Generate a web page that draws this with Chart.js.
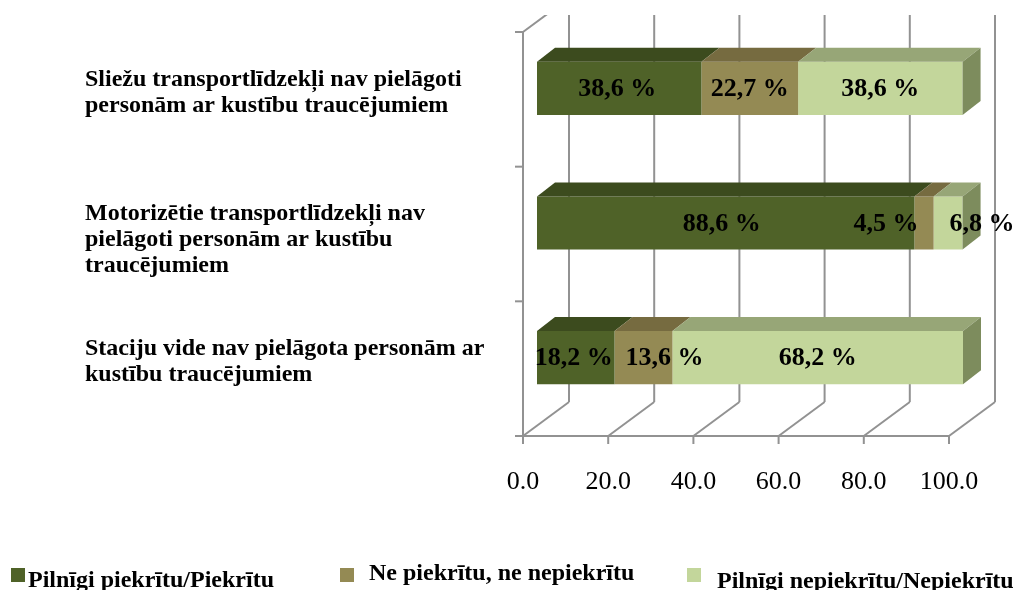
<!DOCTYPE html>
<html>
<head>
<meta charset="utf-8">
<script src="https://cdn.jsdelivr.net/npm/chart.js@4/dist/chart.umd.min.js"></script>
<style>
  html, body { margin: 0; padding: 0; background: #ffffff; }
  #wrap { position: relative; width: 1022px; height: 590px; overflow: hidden; }
  #c { position: absolute; left: 0; top: 0; }
  .leg { position: absolute; font-family: "Liberation Serif", serif; font-weight: bold; font-size: 24px; color: #000; white-space: nowrap; line-height: 1; }
  .mk { position: absolute; width: 14px; height: 14px; }
</style>
</head>
<body>
<div id="wrap">
  <canvas id="c" width="1022" height="590"></canvas>
  <div id="legend"></div>
</div>
<script>
// ---- data ----
const categories = [
  ["Sliežu transportlīdzekļi nav pielāgoti", "personām ar kustību traucējumiem"],
  ["Motorizētie transportlīdzekļi nav", "pielāgoti personām ar kustību", "traucējumiem"],
  ["Staciju vide nav pielāgota personām ar", "kustību traucējumiem"]
];
const seriesNames = ["Pilnīgi piekrītu/Piekrītu", "Ne piekrītu, ne nepiekrītu", "Pilnīgi nepiekrītu/Nepiekrītu"];
const agree    = [38.6, 88.6, 18.2];
const neutral  = [22.7, 4.5, 13.6];
const disagree = [38.6, 6.8, 68.2];
const xTicks = [0, 20, 40, 60, 80, 100];

// ---- styles ----
const frontColors = ["#4f6228", "#948a54", "#c3d69b"];
const topColors   = ["#3c4b1e", "#766b40", "#97a677"];
const sideColor   = "#7d8c5d";
const gridColor   = "#929292";
const FRONT = { dx: -14, dy: 11 };   // front wall offset from bar plane
const BACK  = { dx: 32, dy: -23 };   // back wall offset from bar plane
const DEPTH = { dx: 18, dy: 14 };    // bar depth
const CLIP_TOP = 15;
// label nudges [dataset][index] in px (to avoid overlaps as in the original)
const labelNudge = [[-2, -4, -2], [0, -38, 21], [0, 34, 0]];

const seriesData = [agree, neutral, disagree];

const threeD = {
  id: 'threeD',
  beforeDatasetsDraw(chart) {
    const ctx = chart.ctx, xs = chart.scales.x, ca = chart.chartArea;
    ctx.save();
    ctx.beginPath();
    ctx.rect(0, CLIP_TOP, chart.width, chart.height - CLIP_TOP);
    ctx.clip();
    ctx.strokeStyle = gridColor;
    ctx.lineWidth = 2;
    ctx.lineCap = 'butt';
    const line = (x1, y1, x2, y2) => { ctx.beginPath(); ctx.moveTo(x1, y1); ctx.lineTo(x2, y2); ctx.stroke(); };
    const fb = ca.bottom + FRONT.dy, bb = ca.bottom + BACK.dy;
    const ft = ca.top + FRONT.dy, bt = ca.top + BACK.dy;
    xTicks.forEach(v => {
      const px = xs.getPixelForValue(v);
      line(px + BACK.dx, bb, px + BACK.dx, bt - 20);
      line(px + FRONT.dx, fb, px + BACK.dx, bb);
      line(px + FRONT.dx, fb, px + FRONT.dx, fb + 8);
    });
    const x0 = xs.getPixelForValue(0), x1 = xs.getPixelForValue(100);
    line(x0 + FRONT.dx - 8, fb, x1 + FRONT.dx, fb);
    line(x0 + FRONT.dx, ft, x0 + FRONT.dx, fb);
    line(x0 + FRONT.dx, ft, x0 + BACK.dx, bt);
    const n = categories.length;
    const step = (ca.bottom - ca.top) / n;
    for (let i = 0; i <= n; i++) {
      const y = ca.top + i * step + FRONT.dy;
      line(x0 + FRONT.dx - 8, y, x0 + FRONT.dx, y);
    }
    ctx.restore();
  },
  afterDatasetsDraw(chart) {
    const ctx = chart.ctx;
    ctx.save();
    const nSets = chart.data.datasets.length;
    for (let d = 0; d < nSets; d++) {
      const meta = chart.getDatasetMeta(d);
      meta.data.forEach((el, i) => {
        const p = el.getProps(['x', 'y', 'base', 'height'], true);
        const l = Math.min(p.base, p.x), r = Math.max(p.base, p.x);
        const t = p.y - p.height / 2, b = p.y + p.height / 2;
        ctx.fillStyle = topColors[d];
        ctx.beginPath();
        ctx.moveTo(l, t); ctx.lineTo(r, t);
        ctx.lineTo(r + DEPTH.dx, t - DEPTH.dy); ctx.lineTo(l + DEPTH.dx, t - DEPTH.dy);
        ctx.closePath(); ctx.fill();
        if (d === nSets - 1) {
          ctx.fillStyle = sideColor;
          ctx.beginPath();
          ctx.moveTo(r, t); ctx.lineTo(r + DEPTH.dx, t - DEPTH.dy);
          ctx.lineTo(r + DEPTH.dx, b - DEPTH.dy); ctx.lineTo(r, b);
          ctx.closePath(); ctx.fill();
        }
      });
    }
    ctx.font = 'bold 26px "Liberation Serif"';
    ctx.fillStyle = '#000';
    ctx.textAlign = 'center';
    ctx.textBaseline = 'middle';
    for (let d = 0; d < nSets; d++) {
      const meta = chart.getDatasetMeta(d);
      meta.data.forEach((el, i) => {
        const p = el.getProps(['x', 'y', 'base'], true);
        const v = chart.data.datasets[d].data[i];
        const txt = v.toFixed(1).replace('.', ',') + ' %';
        ctx.fillText(txt, (p.x + p.base) / 2 + labelNudge[d][i], p.y + 1);
      });
    }
    ctx.restore();
  }
};

const chart = new Chart(document.getElementById('c'), {
  type: 'bar',
  data: {
    labels: categories,
    datasets: seriesNames.map((name, k) => ({
      label: name,
      data: seriesData[k],
      backgroundColor: frontColors[k],
      borderWidth: 0,
      barPercentage: 0.395,
      categoryPercentage: 1.0
    }))
  },
  options: {
    indexAxis: 'y',
    responsive: false,
    animation: false,
    events: [],
    layout: { padding: { top: 21, right: 59, left: 85, bottom: 0 } },
    plugins: { legend: { display: false }, tooltip: { enabled: false } },
    scales: {
      x: {
        stacked: true, min: 0, max: 100,
        afterBuildTicks: s => { s.ticks = xTicks.map(v => ({ value: v })); },
        afterFit: s => { s.height = 165; s.paddingLeft = 0; s.paddingRight = 0; },
        grid: { display: false, drawTicks: false },
        border: { display: false },
        ticks: {
          callback: v => Number(v).toFixed(1),
          font: { family: 'Liberation Serif', size: 26 },
          color: '#000',
          padding: 42,
          labelOffset: -14,
          maxRotation: 0
        }
      },
      y: {
        stacked: true,
        afterFit: s => { s.width = 452; s.paddingTop = 0; s.paddingBottom = 0; },
        grid: { display: false, drawTicks: false },
        border: { display: false },
        ticks: {
          crossAlign: 'far',
          // the middle label sits lower in the original: pad it with a blank leading line
          callback: (v, i) => (i === 1 ? [''].concat(categories[i]) : categories[i]),
          font: { family: 'Liberation Serif', size: 24, weight: 'bold', lineHeight: 26 / 24 },
          color: '#000',
          labelOffset: 4
        }
      }
    }
  },
  plugins: [threeD]
});

// HTML legend built from series names and colours
const legPos = [ { mx: 11, my: 568, tx: 28, ty: 567 }, { mx: 340, my: 568, tx: 369, ty: 560 }, { mx: 687, my: 568, tx: 717, ty: 568 } ];
const legendEl = document.getElementById('legend');
seriesNames.forEach((name, k) => {
  const m = document.createElement('div');
  m.className = 'mk';
  m.style.left = legPos[k].mx + 'px'; m.style.top = legPos[k].my + 'px';
  m.style.background = frontColors[k];
  legendEl.appendChild(m);
  const t = document.createElement('div');
  t.className = 'leg';
  t.style.left = legPos[k].tx + 'px'; t.style.top = legPos[k].ty + 'px';
  t.textContent = name;
  legendEl.appendChild(t);
});
</script>
</body>
</html>
